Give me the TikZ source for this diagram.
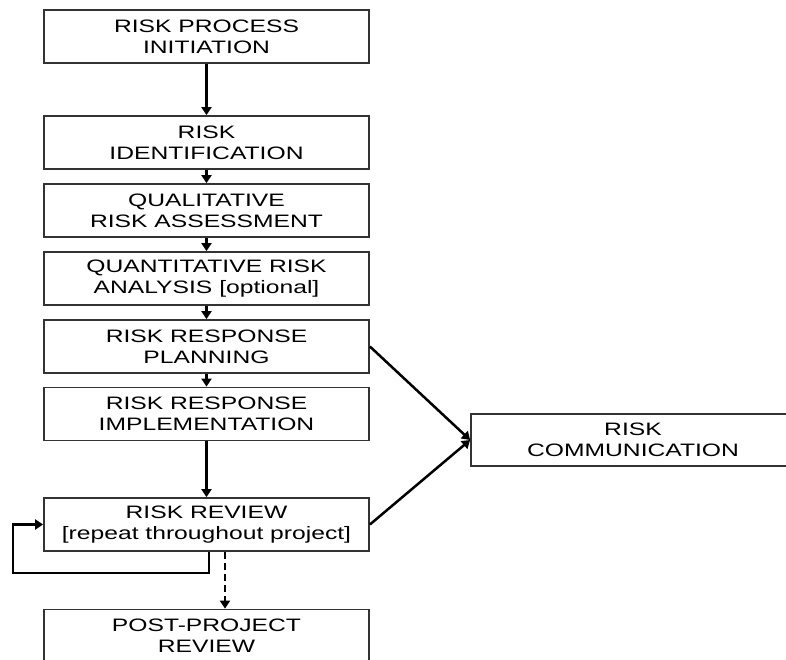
\documentclass[tikz,border=0pt]{standalone}
\usepackage{fontspec}
\setmainfont{Liberation Sans}[FakeStretch=1.37]
\usetikzlibrary{arrows.meta}
\tikzset{
  box/.style={draw=black!80, line width=1.8pt, rectangle, minimum width=325pt, minimum height=53pt,
    inner sep=0pt, align=center, font=\fontsize{18}{21}\selectfont},
  arr/.style={line width=2.5pt, -{Triangle[length=8pt,width=10pt]}},
}
\begin{document}
\begin{tikzpicture}[x=1pt,y=-1pt]
\useasboundingbox (0,0) rectangle (786,660);
\node[box] (b1) at (206.5,36.5) {RISK PROCESS\\INITIATION};
\node[box] (b2) at (206.5,142.5) {RISK\\IDENTIFICATION};
\node[box] (b3) at (206.5,210.5) {QUALITATIVE\\RISK ASSESSMENT};
\node[box] (b4) at (206.5,278.5) {QUANTITATIVE RISK\\ANALYSIS [optional]};
\node[box] (b5) at (206.5,346.5) {RISK RESPONSE\\PLANNING};
\node[box] (b6) at (206.5,414) {RISK RESPONSE\\IMPLEMENTATION};
\node[box] (b7) at (206.5,524.5) {RISK REVIEW\\{[}repeat throughout project{]}};
\node[box] (b8) at (206.5,636) {POST-PROJECT\\REVIEW};
\node[box, minimum width=324pt, minimum height=52pt] (comm) at (633,440) {RISK\\COMMUNICATION};
\draw[arr] (b1) -- (b2);
\draw[arr] (b2) -- (b3);
\draw[arr] (b3) -- (b4);
\draw[arr] (b4) -- (b5);
\draw[arr] (b5) -- (b6);
\draw[arr] (b6) -- (b7);
\draw[arr] (b5.east) -- (comm.west);
\draw[arr] (b7.east) -- (comm.west);
\coordinate (l1) at (13,573);
\draw[arr] ([xshift=2.5pt]b7.south) |- (l1) |- (b7.west);
\draw[arr, dashed, dash pattern=on 7pt off 4pt] ([xshift=18.5pt]b7.south) -- ([xshift=18.5pt]b8.north);
\end{tikzpicture}
\end{document}
